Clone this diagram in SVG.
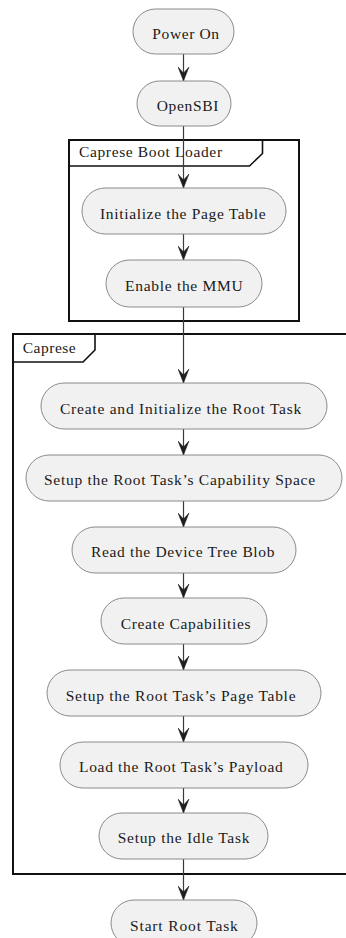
<svg xmlns="http://www.w3.org/2000/svg" width="346" height="938" viewBox="0 0 346 938">
<defs>
<style>
.pill{fill:#F1F1F1;stroke:#8a8a8a;stroke-width:1}
.frame{fill:none;stroke:#111;stroke-width:2}
.tab{fill:none;stroke:#111;stroke-width:1.6}
.edge{stroke:#3a3a3a;stroke-width:1.2;fill:none}
.ah{fill:#1e1e1e;stroke:#1e1e1e;stroke-width:0.5}
</style>
<marker id="arr" viewBox="0 0 14 12" refX="14" refY="6" markerWidth="14" markerHeight="12" markerUnits="userSpaceOnUse" orient="auto">
<path class="ah" d="M0,0.5 L14,6 L0,11.5 L6,6 Z"/>
</marker>
</defs>
<rect width="346" height="938" fill="#ffffff"/>

<g id="frame-bootloader">
<rect class="frame" x="69" y="140" width="230" height="181"/>
<path class="tab" d="M69,166 L249.5,166 L262.5,153.5 L262.5,140"/>
<text x="79" y="157" font-family="Liberation Serif, serif" font-size="15.5" fill="#1a1a1a" letter-spacing="0.63">Caprese Boot Loader</text>
</g>

<g id="frame-caprese">
<path class="frame" d="M360,334 L13,334 L13,874 L360,874"/>
<path class="tab" d="M13,362 L83,362 L95,350 L95,334"/>
<text x="22.7" y="353" font-family="Liberation Serif, serif" font-size="15.5" fill="#1a1a1a" letter-spacing="0.52">Caprese</text>
</g>

<g id="connectors">
<line class="edge" x1="183.5" y1="54" x2="183.5" y2="81" marker-end="url(#arr)"/>
<line class="edge" x1="183.5" y1="126" x2="183.5" y2="188" marker-end="url(#arr)"/>
<line class="edge" x1="183.5" y1="234" x2="183.5" y2="260" marker-end="url(#arr)"/>
<line class="edge" x1="183.5" y1="307" x2="183.5" y2="383" marker-end="url(#arr)"/>
<line class="edge" x1="183.5" y1="429" x2="183.5" y2="455" marker-end="url(#arr)"/>
<line class="edge" x1="183.5" y1="501" x2="183.5" y2="527" marker-end="url(#arr)"/>
<line class="edge" x1="183.5" y1="573" x2="183.5" y2="598" marker-end="url(#arr)"/>
<line class="edge" x1="183.5" y1="644" x2="183.5" y2="670" marker-end="url(#arr)"/>
<line class="edge" x1="183.5" y1="716" x2="183.5" y2="742" marker-end="url(#arr)"/>
<line class="edge" x1="183.5" y1="788" x2="183.5" y2="813" marker-end="url(#arr)"/>
<line class="edge" x1="183.5" y1="859" x2="183.5" y2="900" marker-end="url(#arr)"/>
</g>

<g id="power-on">
<rect class="pill" x="133" y="9" width="101" height="45" rx="22.5"/>
<text x="152.3" y="39" font-family="Liberation Serif, serif" font-size="15.5" fill="#1a1a1a" letter-spacing="0.61">Power On</text>
</g>
<g id="opensbi">
<rect class="pill" x="137" y="81" width="94" height="45" rx="22.5"/>
<text x="156.7" y="111" font-family="Liberation Serif, serif" font-size="15.5" fill="#1a1a1a" letter-spacing="0.67">OpenSBI</text>
</g>
<g id="init-page-table">
<rect class="pill" x="82" y="188" width="204" height="46" rx="23"/>
<text x="100" y="218.5" font-family="Liberation Serif, serif" font-size="15.5" fill="#1a1a1a" letter-spacing="0.66">Initialize the Page Table</text>
</g>
<g id="enable-mmu">
<rect class="pill" x="106" y="260" width="156" height="47" rx="23.5"/>
<text x="125" y="290.5" font-family="Liberation Serif, serif" font-size="15.5" fill="#1a1a1a" letter-spacing="0.71">Enable the MMU</text>
</g>
<g id="create-root-task">
<rect class="pill" x="41" y="383" width="286" height="46" rx="23"/>
<text x="60" y="413.5" font-family="Liberation Serif, serif" font-size="15.5" fill="#1a1a1a" letter-spacing="0.77">Create and Initialize the Root Task</text>
</g>
<g id="setup-cap-space">
<rect class="pill" x="26" y="455" width="316" height="46" rx="23"/>
<text x="44" y="485" font-family="Liberation Serif, serif" font-size="15.5" fill="#1a1a1a" letter-spacing="0.72">Setup the Root Task’s Capability Space</text>
</g>
<g id="read-dtb">
<rect class="pill" x="72" y="527" width="224" height="46" rx="23"/>
<text x="91" y="557" font-family="Liberation Serif, serif" font-size="15.5" fill="#1a1a1a" letter-spacing="0.65">Read the Device Tree Blob</text>
</g>
<g id="create-caps">
<rect class="pill" x="101" y="598" width="166" height="46" rx="23"/>
<text x="120.7" y="628.5" font-family="Liberation Serif, serif" font-size="15.5" fill="#1a1a1a" letter-spacing="0.64">Create Capabilities</text>
</g>
<g id="setup-page-table">
<rect class="pill" x="47" y="670" width="274" height="46" rx="23"/>
<text x="65.7" y="700.5" font-family="Liberation Serif, serif" font-size="15.5" fill="#1a1a1a" letter-spacing="0.74">Setup the Root Task’s Page Table</text>
</g>
<g id="load-payload">
<rect class="pill" x="60" y="742" width="248" height="46" rx="23"/>
<text x="79" y="772" font-family="Liberation Serif, serif" font-size="15.5" fill="#1a1a1a" letter-spacing="0.68">Load the Root Task’s Payload</text>
</g>
<g id="setup-idle">
<rect class="pill" x="99" y="813" width="169" height="46" rx="23"/>
<text x="117.7" y="843" font-family="Liberation Serif, serif" font-size="15.5" fill="#1a1a1a" letter-spacing="0.72">Setup the Idle Task</text>
</g>
<g id="start-root-task">
<rect class="pill" x="111" y="900" width="146" height="46" rx="23"/>
<text x="130" y="931" font-family="Liberation Serif, serif" font-size="15.5" fill="#1a1a1a" letter-spacing="0.85">Start Root Task</text>
</g>
</svg>
